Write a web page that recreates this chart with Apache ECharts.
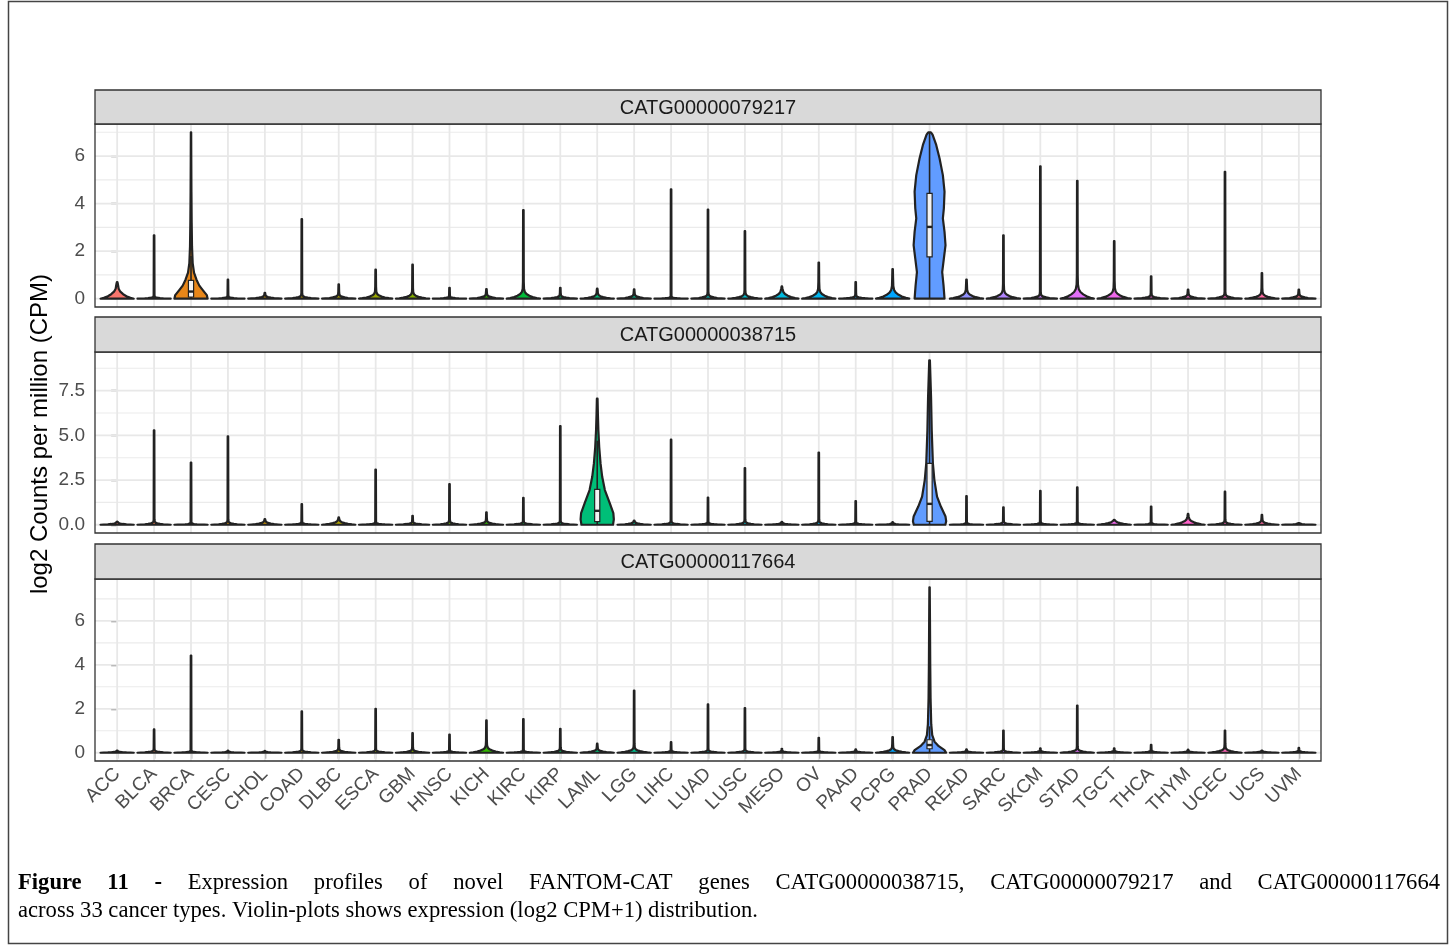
<!DOCTYPE html>
<html><head><meta charset="utf-8">
<script src="https://cdn.jsdelivr.net/npm/echarts@6/dist/echarts.min.js"></script>
<style>html,body{margin:0;padding:0;background:#fff}#c{width:1450px;height:947px}</style>
</head><body><div id="c"></div>
<script>
// ---------------- DATA ----------------
const CATEGORIES = ['ACC','BLCA','BRCA','CESC','CHOL','COAD','DLBC','ESCA','GBM','HNSC','KICH','KIRC','KIRP','LAML','LGG','LIHC','LUAD','LUSC','MESO','OV','PAAD','PCPG','PRAD','READ','SARC','SKCM','STAD','TGCT','THCA','THYM','UCEC','UCS','UVM'];
const GENES = ['CATG00000079217','CATG00000038715','CATG00000117664'];

// maximum value of each violin (top of the tail)
const TOP_79217 = [0.70,2.67,7.00,0.80,0.25,3.35,0.60,1.22,1.43,0.46,0.40,3.73,0.46,0.42,0.39,4.60,3.75,2.84,0.52,1.52,0.70,1.24,7.00,0.80,2.67,5.57,4.96,2.42,0.94,0.38,5.34,1.08,0.38];
const TOP_38715 = [0.18,5.28,3.48,4.94,0.32,1.15,0.41,3.09,0.50,2.28,0.70,1.50,5.52,7.05,0.24,4.76,1.52,3.17,0.17,4.04,1.33,0.15,9.20,1.61,0.98,1.89,2.09,0.28,1.02,0.61,1.85,0.56,0.10];
const TOP_117664 = [0.10,1.06,4.42,0.10,0.08,1.88,0.59,2.00,0.89,0.83,1.47,1.53,1.09,0.41,2.83,0.48,2.20,2.03,0.18,0.68,0.15,0.71,7.53,0.15,1.01,0.20,2.15,0.20,0.36,0.14,1.01,0.10,0.22];

// height of the wide base bulge (density mass near zero)
const BULGE_79217 = [0.42,0.06,0,0.06,0.10,0.10,0.12,0.20,0.18,0.06,0.12,0.28,0.10,0.15,0.12,0.05,0.12,0.15,0.28,0.28,0.08,0.36,0,0.25,0.25,0.12,0.40,0.30,0.10,0.12,0.12,0.18,0.12];
const BULGE_38715 = [0.10,0.12,0.06,0.12,0.15,0.08,0.20,0.08,0.10,0.12,0.15,0.10,0.10,0,0.12,0.10,0.08,0.12,0.08,0.12,0.08,0.06,0,0.06,0.10,0.08,0.08,0.20,0.06,0.30,0.12,0.16,0.06];
const BULGE_117664 = [0.05,0.08,0.05,0.04,0.04,0.08,0.10,0.08,0.10,0.06,0.22,0.06,0.10,0.12,0.16,0.06,0.08,0.08,0.05,0.05,0.05,0.16,0,0.05,0.08,0.06,0.12,0.06,0.06,0.05,0.16,0.05,0.06];

// read density profiles of the large violins: [value, relative half-width]
const PROFILE_79217_BRCA = [[0,1.0],[0.15,0.95],[0.35,0.72],[0.55,0.5],[0.8,0.33],[1.1,0.18],[1.5,0.1],[2.2,0.06],[3.2,0.04],[4.5,0.025],[6,0.015],[7.0,0.01]];
const PROFILE_79217_PRAD = [[0,0.9],[0.56,0.84],[1.12,0.76],[1.69,0.86],[2.25,0.96],[2.81,0.9],[3.38,0.8],[3.8,0.86],[4.5,0.9],[5.2,0.8],[5.91,0.6],[6.47,0.4],[6.9,0.18],[7.0,0.08]];
const PROFILE_38715_LAML = [[0,0.95],[0.3,1.0],[0.65,0.97],[1.2,0.76],[1.94,0.46],[2.68,0.3],[3.43,0.2],[4.35,0.12],[5.28,0.07],[6.2,0.04],[7.05,0.02]];
const PROFILE_38715_PRAD = [[0,0.95],[0.2,1.0],[0.46,0.96],[1.02,0.68],[1.57,0.45],[2.5,0.29],[3.43,0.2],[5.28,0.13],[7.13,0.09],[8.3,0.05],[9.2,0.02]];
const PROFILE_117664_PRAD = [[0,1.0],[0.12,0.9],[0.3,0.55],[0.5,0.3],[0.8,0.16],[1.3,0.1],[2.5,0.06],[4,0.04],[6,0.025],[7.53,0.01]];

// boxplots drawn inside violins: [lower whisker, q1, median, q3, upper whisker]
const BOX_79217 = {BRCA:[0,0.07,0.3,0.77,1.8], PRAD:[0,1.76,3.02,4.43,7.0]};
const BOX_38715 = {LAML:[0,0.18,0.78,1.98,4.7], PRAD:[0,0.19,1.17,3.43,8.3]};
const BOX_117664 = {PRAD:[0,0.18,0.35,0.59,1.2]};

// axis ticks
const Y_TICKS_79217 = [0,2,4,6];
const Y_MINOR_79217 = [1,3,5,7];
const Y_TICKS_38715 = [0,2.5,5,7.5];
const Y_MINOR_38715 = [1.25,3.75,6.25,8.75];
const Y_TICKS_117664 = [0,2,4,6];
const Y_MINOR_117664 = [1,3,5,7];

const Y_TITLE = 'log2 Counts per million (CPM)';
const CAPTION_BOLD = 'Figure 11 -';
const CAPTION_LINE1 = 'Expression profiles of novel FANTOM-CAT genes CATG00000038715, CATG00000079217 and CATG00000117664';
const CAPTION_LINE2 = 'across 33 cancer types. Violin-plots shows expression (log2 CPM+1) distribution.';

// generic shape of a zero-inflated violin base (value in units of bulge height)
const TENT = [[0,1],[0.1,0.8],[0.25,0.56],[0.45,0.36],[0.7,0.19],[1,0.09],[1.5,0.04],[2.5,0.025]];

// ---------------- COLORS (ggplot2 hue palette) ----------------
function hcl(h, c, l) {
  const hr = h * Math.PI / 180;
  const U = c * Math.cos(hr), V = c * Math.sin(hr);
  const Xn = 95.047, Yn = 100, Zn = 108.883;
  const Y = l > 7.999592 ? Yn * Math.pow((l + 16) / 116, 3) : Yn * l / 903.3;
  const den = Xn + 15 * Yn + 3 * Zn;
  const un = 4 * Xn / den, vn = 9 * Yn / den;
  const u = U / (13 * l) + un, v = V / (13 * l) + vn;
  const X = 9 * Y * u / (4 * v);
  const Z = -X / 3 - 5 * Y + 3 * Y / v;
  const g = t => { t = t <= 0.0031308 ? 12.92 * t : 1.055 * Math.pow(t, 1 / 2.4) - 0.055; return Math.round(255 * Math.max(0, Math.min(1, t))); };
  const r = g((3.240479 * X - 1.537150 * Y - 0.498535 * Z) / Yn);
  const gg = g((-0.969256 * X + 1.875992 * Y + 0.041556 * Z) / Yn);
  const b = g((0.055648 * X - 0.204043 * Y + 1.057311 * Z) / Yn);
  return '#' + [r, gg, b].map(x => x.toString(16).padStart(2, '0')).join('');
}
const N = CATEGORIES.length;
const COLORS = CATEGORIES.map((_, i) => hcl(15 + i * 360 / N, 100, 65));

// ---------------- PANELS ----------------
const PANELS = [
  {gene: GENES[0], tops: TOP_79217, bulges: BULGE_79217, profiles: {BRCA: PROFILE_79217_BRCA, PRAD: PROFILE_79217_PRAD}, boxes: BOX_79217, ticks: Y_TICKS_79217, minor: Y_MINOR_79217, fmt: v => String(v)},
  {gene: GENES[1], tops: TOP_38715, bulges: BULGE_38715, profiles: {LAML: PROFILE_38715_LAML, PRAD: PROFILE_38715_PRAD}, boxes: BOX_38715, ticks: Y_TICKS_38715, minor: Y_MINOR_38715, fmt: v => Number(v).toFixed(1)},
  {gene: GENES[2], tops: TOP_117664, bulges: BULGE_117664, profiles: {PRAD: PROFILE_117664_PRAD}, boxes: BOX_117664, ticks: Y_TICKS_117664, minor: Y_MINOR_117664, fmt: v => String(v)}
];

// layout (pixels)
const GRID_LEFT = 95, GRID_W = 1226;
const PANEL_TOP = [124, 352, 579];
const PANEL_H = [183, 181, 182];
const STRIP_TOP = [90, 317, 544];
const STRIP_H = [34, 35, 35];
const FONT = '"Liberation Sans", Arial, sans-serif';
const SERIF = '"Liberation Serif", "Times New Roman", serif';
const OUTLINE = '#222222';

const grids = [], xAxes = [], yAxes = [], series = [], graphics = [];
const catIdx = CATEGORIES.map((_, i) => i);

PANELS.forEach((p, k) => {
  const maxV = Math.max(...p.tops);
  const ymin = -0.05 * maxV, ymax = 1.05 * maxV;
  grids.push({left: GRID_LEFT, top: PANEL_TOP[k], width: GRID_W, height: PANEL_H[k], show: true, backgroundColor: '#fff', borderWidth: 0});
  const bottom = k === PANELS.length - 1;
  xAxes.push({
    type: 'value', gridIndex: k, min: -0.6, max: N - 1 + 0.6,
    axisLine: {show: false}, splitLine: {show: false},
    axisTick: {show: bottom, customValues: catIdx, length: 6, lineStyle: {color: '#333', width: 1.3}},
    axisLabel: {show: bottom, customValues: catIdx, formatter: v => CATEGORIES[Math.round(v)], rotate: 45, fontSize: 19, color: '#4D4D4D', fontFamily: FONT, margin: 10}
  });
  yAxes.push({
    type: 'value', gridIndex: k, min: ymin, max: ymax,
    axisLine: {show: false}, splitLine: {show: false},
    axisTick: {show: true, customValues: p.ticks, length: 6, lineStyle: {color: '#333', width: 1.3}},
    axisLabel: {show: true, customValues: p.ticks, formatter: p.fmt, fontSize: 19, color: '#4D4D4D', fontFamily: FONT, margin: 10}
  });
  // gridlines
  series.push({
    type: 'custom', xAxisIndex: k, yAxisIndex: k, silent: true, animation: false, z: 1,
    data: [[0, 0]],
    renderItem: (params, api) => {
      const ch = [];
      const xl = api.coord([-0.6, 0])[0], xr = api.coord([N - 1 + 0.6, 0])[0];
      const yt = api.coord([0, ymax])[1], yb = api.coord([0, ymin])[1];
      p.minor.forEach(v => { const y = api.coord([0, v])[1]; ch.push({type: 'line', shape: {x1: xl, y1: y, x2: xr, y2: y}, style: {stroke: '#EBEBEB', lineWidth: 1.1}}); });
      p.ticks.forEach(v => { const y = api.coord([0, v])[1]; ch.push({type: 'line', shape: {x1: xl, y1: y, x2: xr, y2: y}, style: {stroke: '#E8E8E8', lineWidth: 1.8}}); });
      catIdx.forEach(i => { const x = api.coord([i, 0])[0]; ch.push({type: 'line', shape: {x1: x, y1: yt, x2: x, y2: yb}, style: {stroke: '#E8E8E8', lineWidth: 1.8}}); });
      return {type: 'group', children: ch};
    }
  });
  // violins
  series.push({
    type: 'custom', name: p.gene, xAxisIndex: k, yAxisIndex: k, animation: false, z: 2,
    data: CATEGORIES.map((c, i) => [i, p.tops[i], p.bulges[i]]),
    renderItem: (params, api) => {
      const i = api.value(0), top = api.value(1), b = api.value(2);
      const cat = CATEGORIES[i];
      let prof = p.profiles[cat];
      if (!prof) {
        prof = TENT.map(([t, f]) => [t * b, f]).filter(q => q[0] < top);
        prof.push([top, 0.015]);
      }
      const cx = api.coord([i, 0])[0];
      const hw = api.coord([i + 0.45, 0])[0] - cx;
      const right = prof.map(([v, f]) => [cx + f * hw, api.coord([i, v])[1]]);
      const left = prof.slice().reverse().map(([v, f]) => [cx - f * hw, api.coord([i, v])[1]]);
      const ch = [{type: 'polygon', shape: {points: right.concat(left)}, style: {fill: COLORS[i], stroke: OUTLINE, lineWidth: 2.2, lineJoin: 'round'}}];
      const bx = p.boxes[cat];
      if (bx) {
        const bw = api.coord([i + 0.07, 0])[0] - cx;
        const y = v => api.coord([i, v])[1];
        ch.push({type: 'line', shape: {x1: cx, y1: y(bx[0]), x2: cx, y2: y(bx[1])}, style: {stroke: OUTLINE, lineWidth: 1.6}});
        ch.push({type: 'line', shape: {x1: cx, y1: y(bx[3]), x2: cx, y2: y(bx[4])}, style: {stroke: OUTLINE, lineWidth: 1.6}});
        ch.push({type: 'rect', shape: {x: cx - bw, y: y(bx[3]), width: 2 * bw, height: y(bx[1]) - y(bx[3])}, style: {fill: '#F4F4F4', stroke: OUTLINE, lineWidth: 1.2}});
        ch.push({type: 'line', shape: {x1: cx - bw, y1: y(bx[2]), x2: cx + bw, y2: y(bx[2])}, style: {stroke: OUTLINE, lineWidth: 2.4}});
      }
      return {type: 'group', children: ch};
    }
  });
  // panel border
  graphics.push({type: 'rect', z: 100, silent: true, shape: {x: GRID_LEFT, y: PANEL_TOP[k], width: GRID_W, height: PANEL_H[k]}, style: {fill: 'none', stroke: '#333', lineWidth: 1.3}});
  // strip
  graphics.push({type: 'rect', z: 100, silent: true, shape: {x: GRID_LEFT, y: STRIP_TOP[k], width: GRID_W, height: STRIP_H[k]}, style: {fill: '#D9D9D9', stroke: '#333', lineWidth: 1.3}});
  graphics.push({type: 'text', z: 101, silent: true, x: GRID_LEFT + GRID_W / 2, y: STRIP_TOP[k] + STRIP_H[k] / 2 + 1,
    style: {text: p.gene, font: '20px ' + FONT, fill: '#1A1A1A', textAlign: 'center', textVerticalAlign: 'middle', align: 'center', verticalAlign: 'middle'}});
});

// y-axis title
graphics.push({type: 'text', z: 101, silent: true, x: 40, y: 434, rotation: Math.PI / 2,
  style: {text: Y_TITLE, font: '24px ' + FONT, fill: '#000', textAlign: 'center', textVerticalAlign: 'middle', align: 'center', verticalAlign: 'middle'}});

// outer figure border
graphics.push({type: 'rect', z: 90, silent: true, shape: {x: 8.5, y: 1.5, width: 1439, height: 942}, style: {fill: 'none', stroke: '#444', lineWidth: 1.5}});

// caption (line 1 justified)
(function () {
  const ctx = document.createElement('canvas').getContext('2d');
  const fs = 22.6;
  const normal = fs + 'px ' + SERIF, bold = 'bold ' + fs + 'px ' + SERIF;
  const boldWords = CAPTION_BOLD.split(' ');
  const words = boldWords.concat(CAPTION_LINE1.split(' '));
  const widths = words.map((w, j) => { ctx.font = j < boldWords.length ? bold : normal; return ctx.measureText(w).width; });
  const total = widths.reduce((a, c) => a + c, 0);
  const x0 = 18, x1 = 1440;
  const gap = (x1 - x0 - total) / (words.length - 1);
  let x = x0;
  words.forEach((w, j) => {
    graphics.push({type: 'text', z: 101, silent: true, x: x, y: 883,
      style: {text: w, font: j < boldWords.length ? bold : normal, fill: '#000', textAlign: 'left', textVerticalAlign: 'middle', align: 'left', verticalAlign: 'middle'}});
    x += widths[j] + gap;
  });
  graphics.push({type: 'text', z: 101, silent: true, x: x0, y: 911,
    style: {text: CAPTION_LINE2, font: normal, fill: '#000', textAlign: 'left', textVerticalAlign: 'middle', align: 'left', verticalAlign: 'middle'}});
})();

const chart = echarts.init(document.getElementById('c'), null, {renderer: 'canvas'});
chart.setOption({
  animation: false,
  backgroundColor: '#fff',
  grid: grids, xAxis: xAxes, yAxis: yAxes, series: series,
  graphic: {elements: graphics}
});
</script>
</body></html>
